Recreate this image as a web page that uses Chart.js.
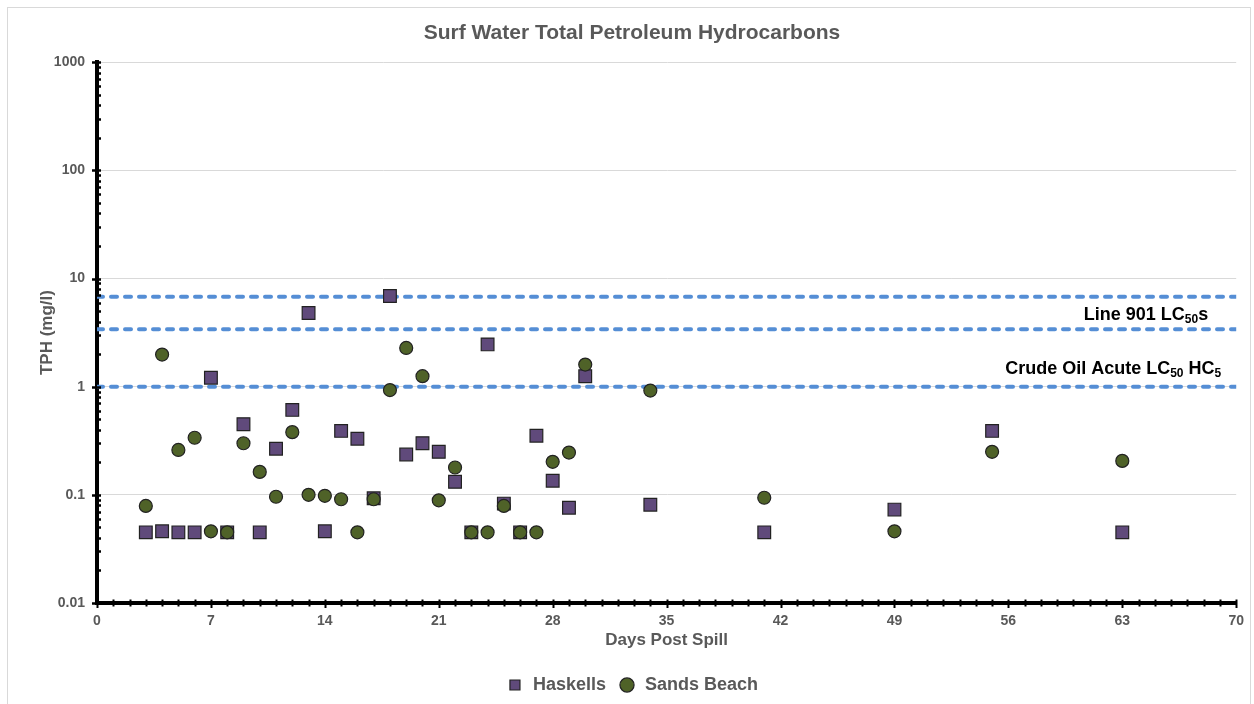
<!DOCTYPE html>
<html>
<head>
<meta charset="utf-8">
<script src="https://cdn.jsdelivr.net/npm/chart.js@4"></script>
<style>
  html, body { margin: 0; padding: 0; background: #fff; }
  #wrap { position: relative; width: 1254px; height: 704px; }
</style>
</head>
<body>
<div id="wrap"><canvas id="chart" width="1254" height="704"></canvas></div>
<script>
const days = [3, 4, 5, 6, 7, 8, 9, 10, 11, 12, 13, 14, 15, 16, 17, 18, 19, 20, 21, 22, 23, 24, 25, 26, 27, 28, 29, 30, 34, 41, 49, 55, 63];
const haskells = [0.045, 0.046, 0.045, 0.045, 1.21, 0.045, 0.45, 0.045, 0.267, 0.61, 4.8, 0.046, 0.39, 0.33, 0.093, 6.9, 0.236, 0.30, 0.25, 0.132, 0.045, 2.46, 0.083, 0.045, 0.352, 0.135, 0.076, 1.25, 0.081, 0.045, 0.073, 0.39, 0.045];
const sandsBeach = [0.079, 1.98, 0.26, 0.337, 0.046, 0.045, 0.30, 0.163, 0.096, 0.38, 0.10, 0.098, 0.091, 0.045, 0.091, 0.93, 2.28, 1.25, 0.089, 0.179, 0.045, 0.045, 0.079, 0.045, 0.045, 0.202, 0.246, 1.6, 0.92, 0.094, 0.046, 0.25, 0.206];

const thresholdValues = [6.8, 3.4, 1.0];
const thresholdSpan = [0, 70];

const yTickValues = [0.01, 0.1, 1, 10, 100, 1000];
const yTickLabels = ["0.01", "0.1", "1", "10", "100", "1000"];

const FONT = "'Liberation Sans', Arial, sans-serif";
const GREY = "#595959";

function points(xs, ys) {
  return xs.map((x, i) => ({ x: x, y: ys[i] }));
}

const thresholdSets = thresholdValues.map(v => ({
  type: "line",
  label: "threshold " + v,
  data: thresholdSpan.map(x => ({ x: x, y: v })),
  borderColor: "#558ED5",
  borderWidth: 4,
  borderDash: [6, 8],
  borderCapStyle: "round",
  pointRadius: 0,
  showLine: true,
  order: 3
}));

// light frame round the chart, like the office export
const frame = {
  id: "frame",
  beforeDraw(chart) {
    const ctx = chart.ctx;
    ctx.save();
    ctx.fillStyle = "#fff";
    ctx.fillRect(0, 0, chart.width, chart.height);
    ctx.strokeStyle = "#d9d9d9";
    ctx.lineWidth = 1;
    ctx.strokeRect(7.5, 7.5, 1243, 720);
    ctx.restore();
  }
};

// tick marks that cross the axis lines
const axisTicks = {
  id: "axisTicks",
  afterDraw(chart) {
    const { ctx, chartArea } = chart;
    const x = chart.scales.x, y = chart.scales.y;
    ctx.save();
    ctx.strokeStyle = "#000";
    ctx.lineWidth = 2.5;
    y.ticks.forEach(t => {
      const py = Math.round(y.getPixelForValue(t.value)) + 0.5;
      ctx.beginPath();
      ctx.moveTo(chartArea.left - (t.major ? 5 : 2), py);
      ctx.lineTo(chartArea.left + 4, py);
      ctx.stroke();
    });
    ctx.lineWidth = 2;
    for (let d = 0; d <= 70; d++) {
      const px = Math.round(x.getPixelForValue(d)) + 0.5;
      const major = d % 7 === 0;
      ctx.beginPath();
      ctx.moveTo(px, chartArea.bottom - 3.5);
      ctx.lineTo(px, chartArea.bottom + (major ? 5 : 3.5));
      ctx.stroke();
    }
    ctx.restore();
  }
};

// threshold labels with subscripts, drawn right to left
function drawSubText(ctx, parts, right, base) {
  let xPos = right;
  for (let i = parts.length - 1; i >= 0; i--) {
    const p = parts[i];
    ctx.font = "bold " + (p.sub ? 12 : 18) + "px " + FONT;
    const w = ctx.measureText(p.t).width;
    xPos -= w;
    ctx.fillText(p.t, xPos, base + (p.sub ? 3 : 0));
  }
}

const thresholdLabels = {
  id: "thresholdLabels",
  afterDatasetsDraw(chart) {
    const { ctx, chartArea } = chart;
    const y = chart.scales.y;
    ctx.save();
    ctx.fillStyle = "#000";
    ctx.textBaseline = "alphabetic";
    drawSubText(ctx, [{ t: "Line 901 LC" }, { t: "50", sub: true }, { t: "s" }],
      chartArea.right - 28, y.getPixelForValue(thresholdValues[1]) - 9);
    drawSubText(ctx, [{ t: "Crude Oil Acute LC" }, { t: "50", sub: true }, { t: " HC" }, { t: "5", sub: true }],
      chartArea.right - 15, y.getPixelForValue(thresholdValues[2]) - 13);
    ctx.restore();
  }
};

const ctx = document.getElementById("chart").getContext("2d");

new Chart(ctx, {
  type: "scatter",
  data: {
    datasets: [
      {
        label: "Haskells",
        data: points(days, haskells),
        pointStyle: "rect",
        pointRadius: 9,
        pointHoverRadius: 9,
        backgroundColor: "#604A7B",
        borderColor: "#222",
        borderWidth: 1.2,
        order: 2
      },
      {
        label: "Sands Beach",
        data: points(days, sandsBeach),
        pointStyle: "circle",
        pointRadius: 6.5,
        pointHoverRadius: 6.5,
        backgroundColor: "#4F6228",
        borderColor: "#222",
        borderWidth: 1.2,
        order: 1
      }
    ].concat(thresholdSets)
  },
  options: {
    responsive: false,
    animation: false,
    layout: { padding: { left: 24, right: 14, top: 0, bottom: 0 } },
    scales: {
      x: {
        type: "linear",
        min: 0,
        max: 70,
        ticks: {
          stepSize: 7,
          color: GREY,
          padding: 10,
          font: { family: FONT, size: 14, weight: "bold" }
        },
        grid: { display: false, drawTicks: false },
        border: { display: true, color: "#000", width: 4 },
        title: {
          display: true,
          text: "Days Post Spill",
          color: GREY,
          padding: { top: 0, bottom: 13 },
          font: { family: FONT, size: 17, weight: "bold" }
        },
        afterFit(scale) { scale.height = 61; }
      },
      y: {
        type: "logarithmic",
        min: 0.01,
        max: 1000,
        afterBuildTicks(scale) {
          const ticks = [];
          yTickValues.forEach((v, i) => {
            ticks.push({ value: v, major: true });
            if (i < yTickValues.length - 1) {
              for (let m = 2; m <= 9; m++) ticks.push({ value: v * m, major: false });
            }
          });
          scale.ticks = ticks;
        },
        ticks: {
          autoSkip: false,
          color: GREY,
          padding: 12,
          font: { family: FONT, size: 14, weight: "bold" },
          callback(value) {
            const i = yTickValues.findIndex(v => Math.abs(v - value) / v < 1e-6);
            return i >= 0 ? yTickLabels[i] : "";
          }
        },
        grid: {
          drawTicks: false,
          lineWidth: 1,
          color: c => (c.tick && c.tick.major ? "#d9d9d9" : "rgba(0,0,0,0)")
        },
        border: { display: true, color: "#000", width: 4 },
        title: {
          display: true,
          text: "TPH (mg/l)",
          color: GREY,
          padding: { top: 13, bottom: 0 },
          font: { family: FONT, size: 17, weight: "bold" }
        },
        afterFit(scale) { scale.width = 73; }
      }
    },
    plugins: {
      title: {
        display: true,
        text: "Surf Water Total Petroleum Hydrocarbons",
        color: GREY,
        padding: { top: 21, bottom: 16 },
        font: { family: FONT, size: 21, weight: "bold" }
      },
      legend: {
        position: "bottom",
        labels: {
          usePointStyle: true,
          boxHeight: 10,
          color: GREY,
          padding: 12,
          font: { family: FONT, size: 18, weight: "bold" },
          filter: item => item.datasetIndex < 2,
          sort: (a, b) => a.datasetIndex - b.datasetIndex
        }
      },
      tooltip: { enabled: false }
    }
  },
  plugins: [frame, axisTicks, thresholdLabels]
});
</script>
</body>
</html>
